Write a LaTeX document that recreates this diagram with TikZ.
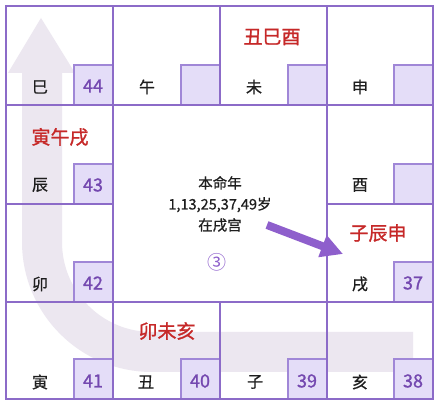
\documentclass[tikz,border=0pt]{standalone}
\usepackage{fontspec}
\setmainfont{Noto Sans CJK SC}
\newfontfamily\medfont{Noto Sans CJK SC}[FakeBold=1.2]
\newfontfamily\semifont{Noto Sans CJK SC}[FakeBold=0.7]
\usetikzlibrary{arrows.meta}
\definecolor{gridc}{RGB}{140,107,200}
\definecolor{boxfill}{RGB}{228,221,248}
\definecolor{boxline}{RGB}{160,135,215}
\definecolor{numc}{RGB}{116,72,176}
\definecolor{redc}{RGB}{198,40,40}
\definecolor{bandc}{RGB}{236,231,240}
\definecolor{diagc}{RGB}{142,95,204}
\definecolor{txtc}{RGB}{30,30,30}
\tikzset{
  gridline/.style={draw=gridc, line width=1.5pt},
  numbox/.style={fill=boxfill, draw=boxline, line width=1.2pt},
  branch/.style={text=txtc, font=\semifont\fontsize{16}{18}\selectfont, inner sep=0pt},
  numlab/.style={text=numc, font=\medfont\fontsize{18}{20}\selectfont, inner sep=0pt},
  redlab/.style={text=redc, font=\medfont\fontsize{19}{21}\selectfont, inner sep=0pt},
  centertxt/.style={text=txtc, font=\semifont\fontsize{14.5}{21}\selectfont, align=center, inner sep=0pt},
  bandline/.style={draw=bandc, line width=40pt},
  diagarrow/.style={draw=diagc, line width=8pt, -{Triangle[width=22pt,length=22pt]}}
}
\begin{document}
\begin{tikzpicture}[x=1pt,y=-1pt]
\useasboundingbox (0,0) rectangle (440,409);
\fill[white] (0,0) rectangle (440,409);
% big pale U arrow
\draw[bandline] (413,352) -- (152,352) arc[start angle=90,end angle=180,radius=110] -- (42,72);
\fill[bandc] (8,73) -- (75,73) -- (41,18) -- cycle;
% number boxes
\foreach \r/\b in {113/105,220/105,327/105,433/105,113/204,433/204,113/302,433/302,113/399,220/399,327/399,433/399}{
  \fill[boxfill] (\r-38.4,\b-39.4) rectangle (\r,\b);
  \draw[numbox,fill=none] (\r-39,\b) -- (\r-39,\b-40) -- (\r,\b-40);
}
% grid
\draw[gridline] (6,6) rectangle (433,399);
\draw[gridline] (113,6) -- (113,399);
\draw[gridline] (327,6) -- (327,399);
\draw[gridline] (220,6) -- (220,105);
\draw[gridline] (220,302) -- (220,399);
\draw[gridline] (6,105) -- (433,105);
\draw[gridline] (6,302) -- (433,302);
\draw[gridline] (6,204) -- (113,204);
\draw[gridline] (327,204) -- (433,204);
% branches
\node[branch] (si) at (40,87) {巳};
\node[branch] (wu) at (147,87) {午};
\node[branch] (wei) at (254,87) {未};
\node[branch] (shen) at (360,87) {申};
\node[branch] (chen) at (40,185) {辰};
\node[branch] (you) at (360,185) {酉};
\node[branch] (mao) at (40,284) {卯};
\node[branch] (xu) at (360,284) {戌};
\node[branch] (yin) at (40,382) {寅};
\node[branch] (chou) at (146,382) {丑};
\node[branch] (zi) at (255,382) {子};
\node[branch] (hai) at (360,382) {亥};
% numbers
\node[numlab] (n44) at (93,86) {44};
\node[numlab] (n43) at (93,185) {43};
\node[numlab] (n42) at (93,283) {42};
\node[numlab] (n41) at (93,381) {41};
\node[numlab] (n40) at (200,381) {40};
\node[numlab] (n39) at (307,381) {39};
\node[numlab] (n38) at (413,381) {38};
\node[numlab] (n37) at (413,283) {37};
% red labels
\node[redlab] (ra) at (272,37) {丑巳酉};
\node[redlab] (rb) at (60,137) {寅午戌};
\node[redlab] (rc) at (167,331) {卯未亥};
\node[redlab] (rd) at (378,233) {子辰申};
% center
\node[centertxt] (ct) at (220,204) {本命年\\1,13,25,37,49岁\\在戌宫};
\node[text=diagc, font=\fontsize{19}{21}\selectfont, inner sep=0pt] (c3) at (217,262) {③};
% diagonal arrow
\coordinate (as) at (267,225);
\coordinate (ae) at (343,254);
\draw[diagarrow] (as) -- (ae);
\end{tikzpicture}
\end{document}
